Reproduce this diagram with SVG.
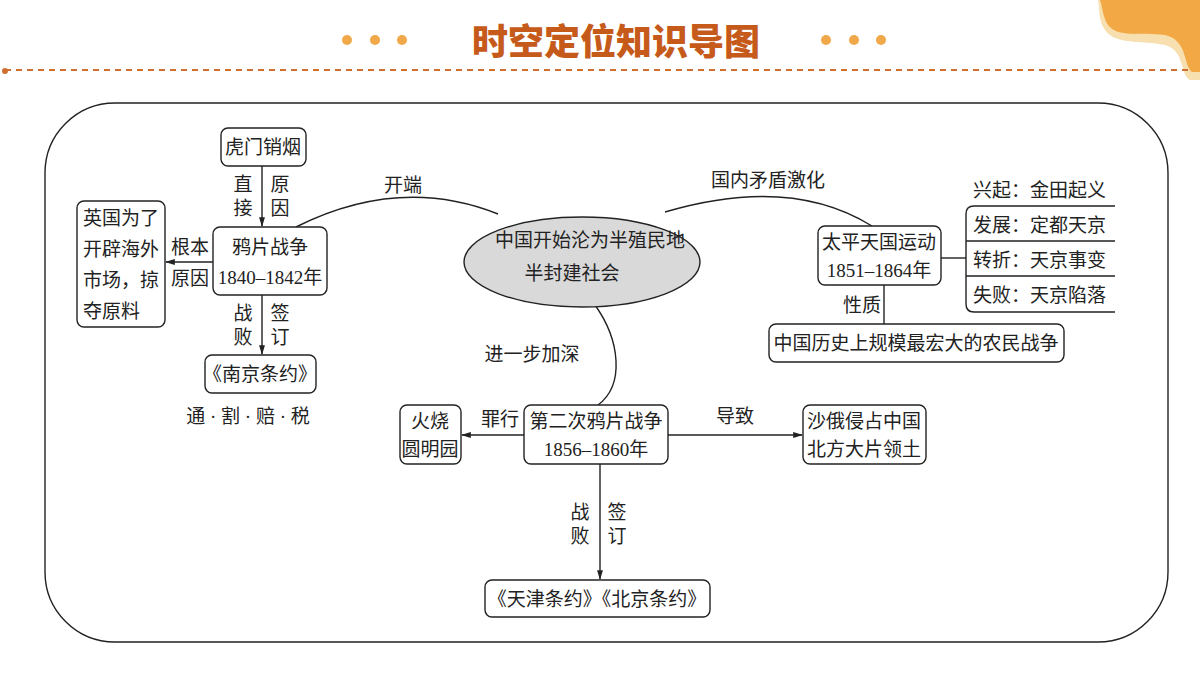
<svg xmlns="http://www.w3.org/2000/svg" width="1200" height="675" viewBox="0 0 1200 675">
<defs>
<marker id="ar" viewBox="0 0 10 10" refX="9" refY="5" markerWidth="7" markerHeight="7" orient="auto"><path d="M0,2 L10,5 L0,8 z" fill="#222"/></marker>
<style>
text{font-family:"Liberation Serif","Noto Sans CJK SC",serif;font-size:19px;fill:#222;text-anchor:middle}
.b{fill:#fff;stroke:#222;stroke-width:1.4}
.c{fill:none;stroke:#222;stroke-width:1.4}
.t{font-family:"Noto Sans CJK SC",sans-serif;font-weight:900;font-size:36px;fill:#c55a1a}
.d{fill:#f0a848}
.l{text-anchor:start}
</style>
</defs>
<rect width="1200" height="675" fill="#fff"/>
<path d="M1098,0 L1200,0 L1200,80 L1190,80 C1180,75 1185,50 1165,45 C1140,40 1115,45 1105,30 C1098,20 1100,10 1098,0 z" fill="#f7dfb0"/>
<path d="M1100,0 L1200,0 L1200,72 L1192,72 C1183,65 1188,40 1165,35 C1140,32 1118,38 1108,25 C1102,15 1103,8 1100,0 z" fill="#f2a945"/>
<line x1="5" y1="70" x2="1192" y2="70" stroke="#d07030" stroke-width="2" stroke-dasharray="6,5"/>
<circle cx="5" cy="71" r="3" fill="#d07030"/>
<g class="d"><circle cx="347" cy="40" r="5"/><circle cx="375" cy="40" r="5"/><circle cx="402" cy="40" r="5"/><circle cx="826" cy="40" r="5"/><circle cx="854" cy="40" r="5"/><circle cx="881" cy="40" r="5"/></g>
<text class="t" x="616" y="55">时空定位知识导图</text>
<rect x="45" y="103" width="1123" height="539" rx="70" class="c" stroke-width="2"/>

<g id="connectors">
<line x1="262" y1="166" x2="262" y2="226" class="c" marker-end="url(#ar)"/>
<line x1="213" y1="262" x2="166" y2="262" class="c" marker-end="url(#ar)"/>
<line x1="262" y1="295" x2="262" y2="354" class="c" marker-end="url(#ar)"/>
<path d="M296,227 Q400,175 498,214" class="c"/>
<path d="M665,212 Q790,175 872,226" class="c"/>
<line x1="884" y1="285" x2="884" y2="324" class="c"/>
<line x1="941" y1="258" x2="966" y2="258" class="c"/>
<path d="M1115,206 L974,206 Q966,206 966,214 L966,304 Q966,312 974,312 L1115,312 M966,241 L1115,241 M966,276 L1115,276" class="c"/>
<path d="M595,305 C620,340 625,385 598,405" class="c"/>
<line x1="524" y1="435" x2="462" y2="435" class="c" marker-end="url(#ar)"/>
<line x1="668" y1="435" x2="802" y2="435" class="c" marker-end="url(#ar)"/>
<line x1="600" y1="464" x2="600" y2="579" class="c" marker-end="url(#ar)"/>
<text x="243" y="191">直</text><text x="243" y="215">接</text>
<text x="280" y="191">原</text><text x="280" y="215">因</text>
<text x="190" y="254">根本</text><text x="190" y="285">原因</text>
<text x="243" y="320">战</text><text x="243" y="344">败</text>
<text x="280" y="320">签</text><text x="280" y="344">订</text>
<text x="403" y="192">开端</text>
<text x="768" y="187">国内矛盾激化</text>
<text x="862" y="312">性质</text>
<text x="532" y="361">进一步加深</text>
<text x="500" y="426">罪行</text>
<text x="735" y="423">导致</text>
<text x="580" y="519">战</text><text x="580" y="543">败</text>
<text x="617" y="519">签</text><text x="617" y="543">订</text>
</g>

<g id="humen"><rect x="221" y="128" width="85" height="38" rx="7" class="b"/><text x="263" y="154">虎门销烟</text></g>
<g id="yapian"><rect x="213" y="227" width="114" height="68" rx="7" class="b"/><text x="270" y="254">鸦片战争</text><text x="270" y="284">1840–1842年</text></g>
<g id="yingguo"><rect x="77" y="201" width="88" height="126" rx="7" class="b"/><text x="121" y="225">英国为了</text><text x="121" y="256">开辟海外</text><text x="121" y="287">市场，掠</text><text x="83" y="318" class="l">夺原料</text></g>
<g id="nanjing"><rect x="205" y="355" width="111" height="38" rx="7" class="b"/><text x="260" y="381">《南京条约》</text></g>
<g id="tong"><text x="248" y="423">通 · 割 · 赔 · 税</text></g>
<g id="center"><ellipse cx="582" cy="262" rx="118" ry="45" fill="#d9d9d9" stroke="#222" stroke-width="1.4"/><text x="590" y="247">中国开始沦为半殖民地</text><text x="572" y="280">半封建社会</text></g>
<g id="taiping"><rect x="818" y="226" width="123" height="59" rx="7" class="b"/><text x="879" y="249">太平天国运动</text><text x="879" y="277">1851–1864年</text></g>
<g id="stages"><text x="973" y="197" class="l">兴起：金田起义</text><text x="973" y="232" class="l">发展：定都天京</text><text x="973" y="267" class="l">转折：天京事变</text><text x="973" y="302" class="l">失败：天京陷落</text></g>
<g id="nature"><rect x="769" y="324" width="295" height="38" rx="7" class="b"/><text x="916" y="350">中国历史上规模最宏大的农民战争</text></g>
<g id="second"><rect x="524" y="405" width="144" height="59" rx="7" class="b"/><text x="596" y="428">第二次鸦片战争</text><text x="596" y="456">1856–1860年</text></g>
<g id="yuanming"><rect x="400" y="405" width="61" height="59" rx="7" class="b"/><text x="430" y="428">火烧</text><text x="430" y="456">圆明园</text></g>
<g id="shae"><rect x="803" y="405" width="123" height="59" rx="7" class="b"/><text x="864" y="428">沙俄侵占中国</text><text x="864" y="456">北方大片领土</text></g>
<g id="tianjin"><rect x="485" y="580" width="225" height="37" rx="7" class="b"/><text x="597" y="606">《天津条约》《北京条约》</text></g>
</svg>
